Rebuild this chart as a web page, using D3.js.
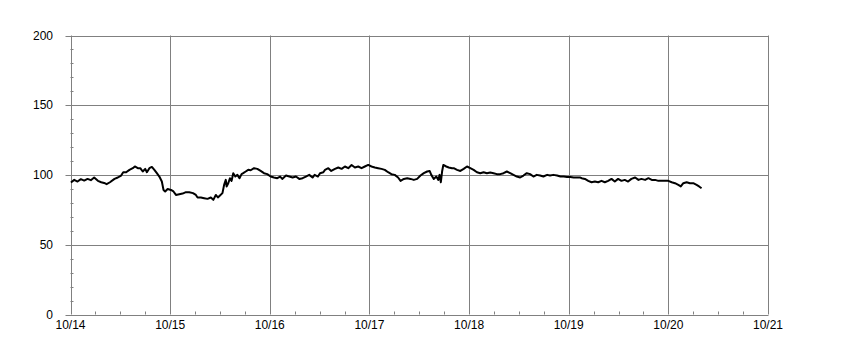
<!DOCTYPE html>
<html>
<head>
<meta charset="utf-8">
<script src="https://cdn.jsdelivr.net/npm/d3@7"></script>
<style>
  html, body { margin: 0; padding: 0; background: #ffffff; }
  svg { display: block; }
  text { font-family: Arial, "Liberation Sans", sans-serif; font-size: 12px; fill: #000; }
</style>
</head>
<body>
<svg id="chart" width="868" height="349"></svg>
<script>
// ---- data ----
const dayLabels = ["10/14", "10/15", "10/16", "10/17", "10/18", "10/19", "10/20", "10/21"];
const yTickValues = [0, 50, 100, 150, 200];
// hours since 10/14 00:00
const hours = [
  0.1, 0.9, 1.7, 2.5, 3.3, 4.1, 4.9, 5.7, 6.6, 7.4, 8.1, 8.7, 9.5, 10.6, 11.4, 12.2, 12.7, 13.4, 14.2, 15.0,
  15.5, 16.2, 16.8, 17.4, 18.0, 18.4, 19.0, 19.6, 20.2, 20.8, 21.4, 22.0, 22.4, 22.8, 23.4, 24.2, 24.8, 25.4,
  26.2, 27.0, 27.8, 28.6, 29.5, 30.2, 30.6, 31.4, 32.2, 33.0, 33.8, 34.4, 35.0, 35.5, 36.0, 36.6, 37.0, 37.4,
  37.6, 38.0, 38.4, 38.8, 39.2, 39.7, 40.2, 40.7, 41.2, 41.6, 42.2, 42.8, 43.4, 44.2, 45.0, 45.8, 46.6, 47.4,
  48.2, 49.0, 49.8, 50.5, 51.0, 51.9, 52.7, 53.5, 54.3, 55.1, 55.9, 56.7, 57.5, 58.3, 58.8, 59.6, 60.1, 60.9,
  61.3, 62.1, 62.8, 63.7, 64.5, 65.3, 66.1, 66.9, 67.7, 68.5, 69.3, 70.1, 70.9, 71.7, 72.5, 73.3, 74.1, 74.9,
  75.7, 76.5, 77.3, 78.1, 78.9, 79.5, 80.3, 81.1, 81.9, 82.7, 83.5, 84.3, 85.1, 85.9, 86.5, 86.9, 87.5, 88.1,
  88.6, 88.9, 89.2, 89.5, 89.8, 90.5, 91.1, 91.9, 92.3, 93.1, 93.9, 94.7, 95.5, 96.3, 97.1, 97.9, 98.7, 99.5,
  100.3, 101.1, 101.9, 102.7, 103.5, 104.3, 105.1, 105.9, 106.7, 107.5, 108.3, 109.1, 109.9, 110.7, 111.5,
  112.3, 113.1, 113.9, 114.8, 115.5, 116.3, 117.2, 118.0, 118.8, 119.6, 120.4, 121.2, 122.0, 122.8, 123.1,
  123.9, 124.7, 125.5, 126.3, 127.1, 127.9, 128.7, 129.5, 130.3, 131.1, 131.9, 132.7, 133.5, 134.3, 135.1,
  136.0, 136.8, 137.5, 138.4, 139.2, 140.0, 140.8, 141.6, 142.4, 143.2, 144.0, 144.8, 145.6, 146.4, 147.0,
  147.6, 148.4, 149.2, 150.0, 150.8, 151.4, 152.0
];
const values = [
  94.6, 96.5, 95.3, 97.0, 96.0, 97.2, 96.3, 98.2, 95.8, 94.8, 94.3, 93.4, 94.8, 97.2, 98.2, 99.6, 102.0, 102.0, 103.7, 104.9,
  106.1, 104.9, 104.9, 102.5, 104.4, 102.0, 104.9, 105.8, 103.7, 101.3, 98.9, 95.3, 89.3, 88.2, 90.0, 89.3, 88.2, 85.7,
  86.2, 86.7, 87.7, 87.7, 87.0, 85.7, 83.9, 83.9, 83.4, 82.9, 83.9, 82.2, 85.7, 83.9, 85.3, 87.0, 92.9, 96.5,
  91.8, 94.1, 97.7, 95.8, 101.3, 98.9, 100.1, 97.7, 100.6, 101.3, 102.5, 103.7, 103.4, 104.9, 104.4, 102.9, 101.3, 100.6,
  98.9, 98.2, 97.7, 98.9, 97.2, 99.6, 98.9, 98.2, 98.9, 97.2, 97.7, 98.9, 100.1, 98.2, 100.1, 98.9, 101.3, 102.0,
  103.7, 104.9, 102.9, 104.4, 105.4, 104.4, 106.1, 104.9, 107.2, 105.4, 106.1, 104.9, 106.1, 107.2, 106.1, 105.4, 104.9, 104.4,
  103.7, 102.0, 100.6, 100.1, 98.2, 95.8, 97.2, 97.7, 97.2, 96.5, 97.2, 99.6, 101.3, 102.5, 102.9, 100.1, 97.2, 98.9,
  96.5, 100.1, 94.8, 102.5, 107.2, 106.1, 105.4, 104.9, 104.9, 103.7, 102.9, 104.4, 106.1, 104.9, 103.7, 102.0, 101.3, 102.0,
  101.3, 101.8, 101.3, 100.6, 100.6, 101.3, 102.5, 101.3, 100.1, 98.9, 98.2, 99.6, 101.3, 100.6, 98.9,
  100.1, 99.6, 98.9, 100.1, 99.6, 100.1, 99.6, 98.9, 98.9, 98.6, 98.6, 98.2, 98.2, 98.2, 97.7,
  97.2, 95.8, 94.8, 95.3, 94.8, 95.8, 94.8, 95.8, 97.2, 95.3, 97.2, 95.8, 96.5, 95.3, 97.2,
  98.2, 96.5, 97.2, 96.5, 97.7, 96.5, 96.5, 95.8, 95.8, 95.8, 95.8, 94.8, 94.1, 92.9, 91.8,
  94.1, 94.8, 94.1, 94.1, 92.9, 91.8, 90.5
];

// ---- layout ----
const plotLeft = 70.5, plotRight = 768.5, plotTop = 35.5, plotBottom = 314.5;
const svg = d3.select("#chart");
const x = d3.scaleLinear().domain([0, 168]).range([plotLeft, plotRight - 0.5]);
const y = d3.scaleLinear().domain([0, 200]).range([plotBottom, plotTop]);
const grid = "#808080";
const px = v => Math.round(v) + 0.5;

// minor y ticks (every 10) inside
const yMinor = d3.range(0, 201, 10).filter(v => v % 50 !== 0);
svg.append("g").selectAll("line").data(yMinor).join("line")
  .attr("x1", plotLeft).attr("x2", plotLeft + 3)
  .attr("y1", d => px(y(d))).attr("y2", d => px(y(d)))
  .attr("stroke", grid);

// minor x ticks (every 6 hours) inside
const xMinor = d3.range(0, 169, 6).filter(h => h % 24 !== 0);
svg.append("g").selectAll("line").data(xMinor).join("line")
  .attr("x1", d => px(x(d))).attr("x2", d => px(x(d)))
  .attr("y1", plotBottom).attr("y2", plotBottom - 3)
  .attr("stroke", grid);

// horizontal gridlines
svg.append("g").selectAll("line").data(yTickValues).join("line")
  .attr("x1", plotLeft - 5).attr("x2", px(x(168)))
  .attr("y1", d => px(y(d))).attr("y2", d => px(y(d)))
  .attr("stroke", grid);

// vertical gridlines
svg.append("g").selectAll("line").data(dayLabels).join("line")
  .attr("x1", (d, i) => px(x(i * 24))).attr("x2", (d, i) => px(x(i * 24)))
  .attr("y1", plotTop).attr("y2", plotBottom)
  .attr("stroke", grid);

// y labels
svg.append("g").selectAll("text").data(yTickValues).join("text")
  .attr("x", 53).attr("y", d => y(d) + 4)
  .attr("text-anchor", "end")
  .text(d => d);

// x labels
svg.append("g").selectAll("text").data(dayLabels).join("text")
  .attr("x", (d, i) => x(i * 24)).attr("y", 329)
  .attr("text-anchor", "middle")
  .text(d => d);

// data line
const pts = hours.map((h, i) => [h, values[i]]);
svg.append("path")
  .datum(pts)
  .attr("fill", "none")
  .attr("stroke", "#000")
  .attr("stroke-width", 2)
  .attr("stroke-linejoin", "round")
  .attr("d", d3.line().x(d => x(d[0])).y(d => y(d[1])));
</script>
</body>
</html>
